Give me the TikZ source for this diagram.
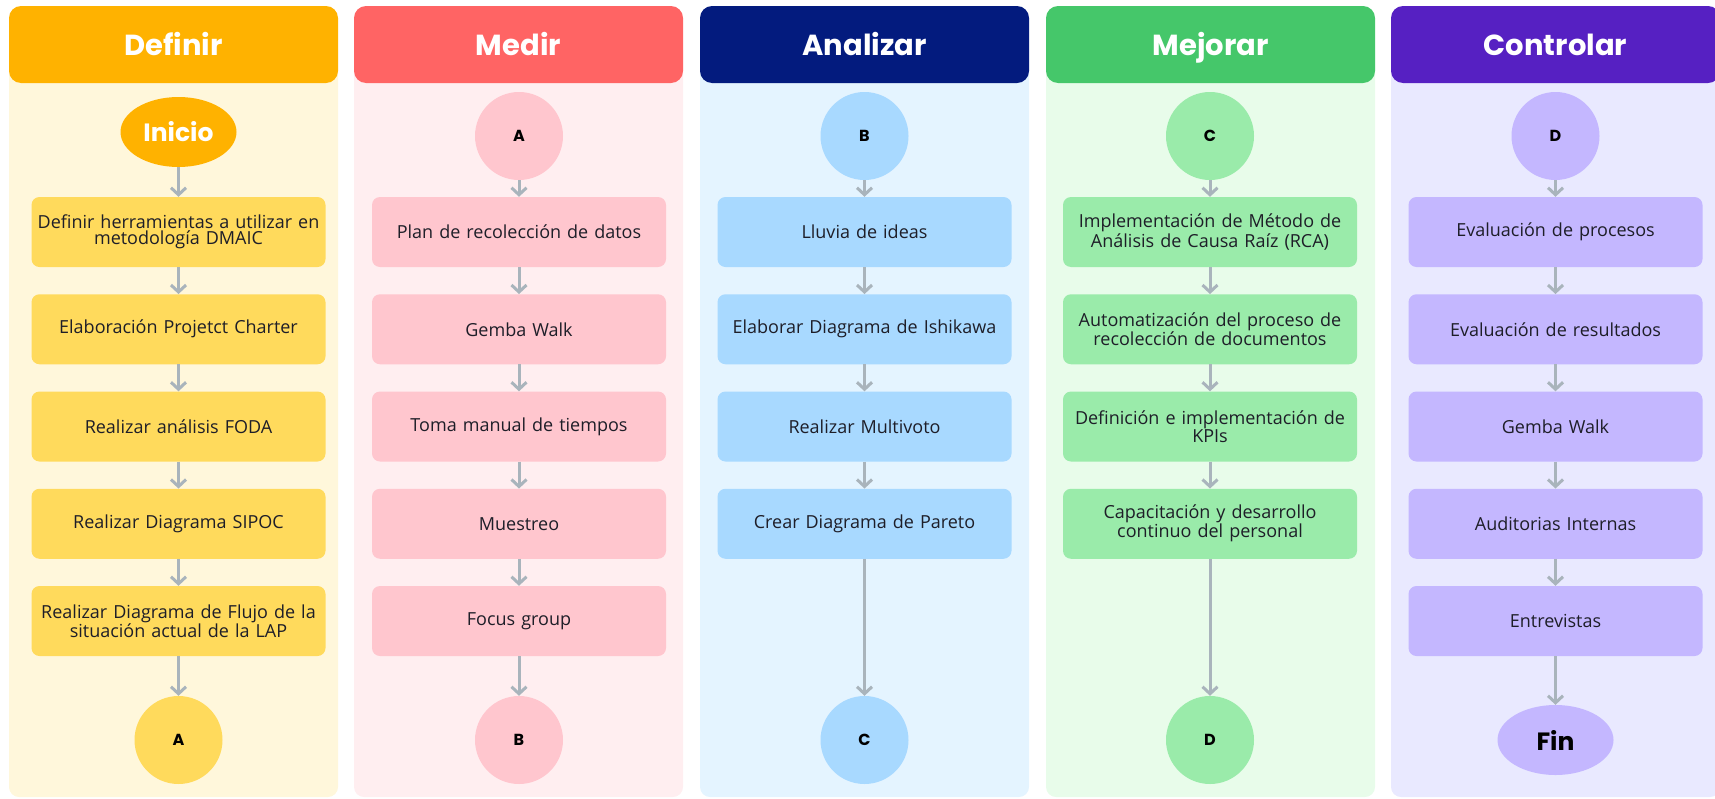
\documentclass[tikz,border=0pt]{standalone}
\usepackage{fontspec}
\usetikzlibrary{arrows.meta,shapes.geometric}
\newfontfamily\hfont{Poppins}
\newfontfamily\bfont{Open Sans}
\definecolor{defH}{HTML}{FFB200}
\definecolor{defB}{HTML}{FFF7DB}
\definecolor{defX}{HTML}{FFDA5C}
\definecolor{medH}{HTML}{FF6464}
\definecolor{medB}{HTML}{FFEEF0}
\definecolor{medX}{HTML}{FFC6CE}
\definecolor{anaH}{HTML}{031B7E}
\definecolor{anaB}{HTML}{E4F4FF}
\definecolor{anaX}{HTML}{A8D9FF}
\definecolor{mejH}{HTML}{45C76A}
\definecolor{mejB}{HTML}{E8FCEA}
\definecolor{mejX}{HTML}{9AEBAA}
\definecolor{conH}{HTML}{5620C2}
\definecolor{conB}{HTML}{E9E9FF}
\definecolor{conX}{HTML}{C4B7FF}
\definecolor{arrc}{HTML}{A9B4BC}
\definecolor{txt}{HTML}{1E1E28}
\begin{document}
\begin{tikzpicture}[x=1pt,y=-1pt,
  hdr/.style={rounded corners=12pt, minimum width=329pt, minimum height=77pt, inner sep=0pt,
    text height=21pt, text depth=0pt,
    text=white, font=\hfont\bfseries\fontsize{29}{32}\selectfont},
  box/.style={rounded corners=8pt, minimum width=294pt, minimum height=70pt, text width=290pt,
    align=center, inner sep=0pt, text=txt, font=\bfont\fontsize{18}{15.5}\selectfont},
  circ/.style={circle, minimum size=88pt, inner sep=0pt, text=black,
    font=\hfont\bfseries\fontsize{16}{18}\selectfont},
  term/.style={ellipse, minimum width=116pt, minimum height=70pt, inner sep=0pt,
    font=\hfont\bfseries\fontsize{25}{28}\selectfont},
  arr/.style={draw=arrc, line width=3pt, -{Straight Barb[length=7pt,width=15pt]}}
]
\useasboundingbox (0,0) rectangle (1715,798);
\begin{scope}
\clip (0,0) rectangle (1715,798);
% column backgrounds
\fill[defB, rounded corners=10pt] (9,40) rectangle (338,797);
\fill[medB, rounded corners=10pt] (354,40) rectangle (683,797);
\fill[anaB, rounded corners=10pt] (700,40) rectangle (1029,797);
\fill[mejB, rounded corners=10pt] (1046,40) rectangle (1375,797);
\fill[conB, rounded corners=10pt] (1391,40) rectangle (1720,797);
% headers
\node[hdr, fill=defH] (hD) at (173.5,44.5) {Definir};
\node[hdr, fill=medH] (hM) at (518.5,44.5) {Medir};
\node[hdr, fill=anaH] (hA) at (864.5,44.5) {Analizar};
\node[hdr, fill=mejH] (hJ) at (1210.5,44.5) {Mejorar};
\node[hdr, fill=conH] (hC) at (1555.5,44.5) {Controlar};
\end{scope}

% Definir
\node[term, fill=defH, text=white] (d0) at (178.5,132) {Inicio};
\node[box, fill=defX] (d1) at (178.5,232) {Definir herramientas a utilizar en\\metodología DMAIC};
\node[box, fill=defX] (d2) at (178.5,329.25) {Elaboración Projetct Charter};
\node[box, fill=defX] (d3) at (178.5,426.5) {Realizar análisis FODA};
\node[box, fill=defX] (d4) at (178.5,523.75) {Realizar Diagrama SIPOC};
\node[box, fill=defX] (d5) at (178.5,621) {Realizar Diagrama de Flujo de la\\situación actual de la LAP};
\node[circ, fill=defX] (d6) at (178.5,740) {A};

% Medir
\node[circ, fill=medX] (m0) at (519,136) {A};
\node[box, fill=medX] (m1) at (519,232) {Plan de recolección de datos};
\node[box, fill=medX] (m2) at (519,329.25) {Gemba Walk};
\node[box, fill=medX] (m3) at (519,426.5) {Toma manual de tiempos};
\node[box, fill=medX] (m4) at (519,523.75) {Muestreo};
\node[box, fill=medX] (m5) at (519,621) {Focus group};
\node[circ, fill=medX] (m6) at (519,740) {B};

% Analizar
\node[circ, fill=anaX] (a0) at (864.5,136) {B};
\node[box, fill=anaX] (a1) at (864.5,232) {Lluvia de ideas};
\node[box, fill=anaX] (a2) at (864.5,329.25) {Elaborar Diagrama de Ishikawa};
\node[box, fill=anaX] (a3) at (864.5,426.5) {Realizar Multivoto};
\node[box, fill=anaX] (a4) at (864.5,523.75) {Crear Diagrama de Pareto};
\node[circ, fill=anaX] (a6) at (864.5,740) {C};

% Mejorar
\node[circ, fill=mejX] (j0) at (1210,136) {C};
\node[box, fill=mejX] (j1) at (1210,232) {Implementación de Método de\\Análisis de Causa Raíz (RCA)};
\node[box, fill=mejX] (j2) at (1210,329.25) {Automatización del proceso de\\recolección de documentos};
\node[box, fill=mejX] (j3) at (1210,426.5) {Definición e implementación de\\KPIs};
\node[box, fill=mejX] (j4) at (1210,523.75) {Capacitación y desarrollo\\continuo del personal};
\node[circ, fill=mejX] (j6) at (1210,740) {D};

% Controlar
\node[circ, fill=conX] (c0) at (1555.5,136) {D};
\node[box, fill=conX] (c1) at (1555.5,232) {Evaluación de procesos};
\node[box, fill=conX] (c2) at (1555.5,329.25) {Evaluación de resultados};
\node[box, fill=conX] (c3) at (1555.5,426.5) {Gemba Walk};
\node[box, fill=conX] (c4) at (1555.5,523.75) {Auditorias Internas};
\node[box, fill=conX] (c5) at (1555.5,621) {Entrevistas};
\node[term, fill=conX, text=black] (c6) at (1555.5,740) {Fin};

% arrows
\foreach \p in {d,m,c}{
  \draw[arr] (\p0) -- (\p1);
  \draw[arr] (\p1) -- (\p2);
  \draw[arr] (\p2) -- (\p3);
  \draw[arr] (\p3) -- (\p4);
  \draw[arr] (\p4) -- (\p5);
  \draw[arr] (\p5) -- (\p6);
}
\foreach \p in {a,j}{
  \draw[arr] (\p0) -- (\p1);
  \draw[arr] (\p1) -- (\p2);
  \draw[arr] (\p2) -- (\p3);
  \draw[arr] (\p3) -- (\p4);
  \draw[arr] (\p4) -- (\p6);
}
\end{tikzpicture}
\end{document}
